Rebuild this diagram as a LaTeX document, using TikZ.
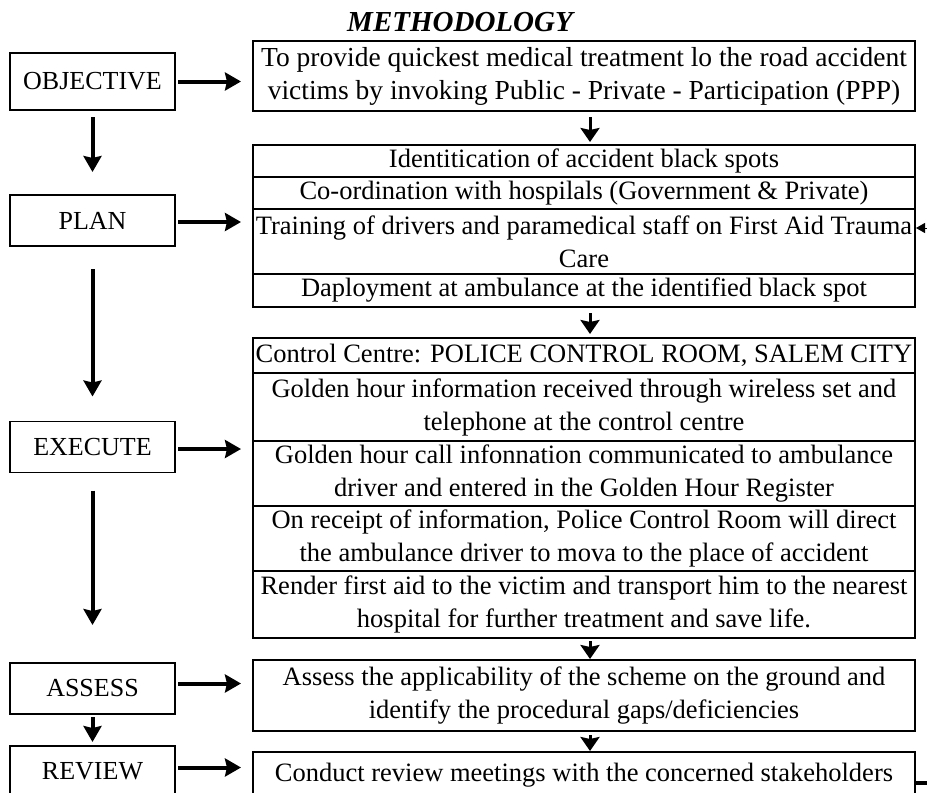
\documentclass[tikz,border=0pt]{standalone}
\usepackage{fontspec}
\setmainfont{Liberation Serif}
\usetikzlibrary{arrows.meta,positioning}

\begin{document}
\begin{tikzpicture}[x=1pt,y=-1pt,
  stage/.style={draw,line width=1.8pt,minimum width=165pt,minimum height=51pt,inner sep=0pt,outer sep=0pt,font=\fontsize{26}{33}\selectfont},
  row/.style={draw,line width=1.4pt,minimum width=662pt,inner sep=0pt,outer sep=0pt,align=center,font=\fontsize{26.5}{33}\selectfont},
  frame/.style={draw,line width=2.4pt},
  bigarrow/.style={-{Stealth[length=16pt,width=18pt,inset=2pt]},line width=4pt},
  smallarrow/.style={-{Stealth[length=14pt,width=19pt,inset=2pt]},line width=3pt}]
\path[use as bounding box,clip] (0,0) rectangle (927,793);
\node[font=\fontsize{29}{33}\selectfont\bfseries\itshape] (title) at (460,22) {METHODOLOGY};
%
% left column
\node[stage,minimum height=57pt] (obj) at (92.5,81.5) {OBJECTIVE};
\node[stage] (plan) at (92.5,220.5) {PLAN};
\node[stage] (exec) at (92.5,447) {EXECUTE};
\node[stage] (asse) at (92.5,688.5) {ASSESS};
\node[stage] (revw) at (92.5,771.5) {REVIEW};
%
% right column
\node[row,line width=2.2pt,minimum height=70pt,anchor=north west,font=\fontsize{27.5}{33}\selectfont] (goal) at (253,41) {To provide quickest medical treatment lo the road accident\\victims by invoking Public - Private - Participation (PPP)};
%
\node[row,minimum height=32pt,anchor=north west] (pa) at (253,145) {Identitication of accident black spots};
\node[row,minimum height=32pt,below=0pt of pa] (pb) {Co-ordination with hospilals (Government \& Private)};
\node[row,minimum height=65pt,below=0pt of pb] (pc) {\makebox[600pt]{Training of drivers and paramedical staff on First Aid Trauma}\\Care};
\node[row,minimum height=33pt,below=0pt of pc] (pd) {Daployment at ambulance at the identified black spot};
\draw[frame] (pa.north west) rectangle (pd.south east);
%
\node[row,minimum height=35pt,anchor=north west] (ea) at (253,338) {Control Centre: POLICE CONTROL ROOM, SALEM CITY};
\node[row,minimum height=68pt,below=0pt of ea] (eb) {Golden hour information received through wireless set and\\telephone at the control centre};
\node[row,minimum height=65pt,below=0pt of eb] (ec) {Golden hour call infonnation communicated to ambulance\\driver and entered in the Golden Hour Register};
\node[row,minimum height=65pt,below=0pt of ec] (ed) {On receipt of information, Police Control Room will direct\\the ambulance driver to mova to the place of accident};
\node[row,minimum height=67pt,below=0pt of ed] (ee) {\makebox[600pt]{Render first aid to the victim and transport him to the nearest}\\hospital for further treatment and save life.};
\draw[frame] (ea.north west) rectangle (ee.south east);
%
\node[row,line width=2.2pt,minimum height=71pt,anchor=north west] (chk) at (253,660) {Assess the applicability of the scheme on the ground and\\identify the procedural gaps/deficiencies};
\node[row,line width=2.2pt,minimum height=46pt,anchor=north west] (mtg) at (253,752) {Conduct review meetings with the concerned stakeholders};
%
% flow down the left
\draw[bigarrow,shorten <=7pt,shorten >=23pt] (obj.south) -- (plan.north);
\draw[bigarrow,shorten <=23pt,shorten >=25pt] (plan.south) -- (exec.north);
\draw[bigarrow,shorten <=18pt,shorten >=38pt] (exec.south) -- (asse.north);
\draw[bigarrow,shorten <=3pt,shorten >=4pt] (asse.south) -- (revw.north);
%
% stage to content
\draw[bigarrow,shorten <=3pt,shorten >=12pt] (obj.east) -- (obj.east -| goal.west);
\draw[bigarrow,shorten <=3pt,shorten >=12pt] ([yshift=-1.5pt]plan.east) -- ([yshift=-1.5pt]plan.east -| pa.west);
\draw[bigarrow,shorten <=3pt,shorten >=12pt] ([yshift=-2pt]exec.east) -- ([yshift=-2pt]exec.east -| eb.west);
\draw[bigarrow,shorten <=3pt,shorten >=12pt] ([yshift=5pt]asse.east) -- ([yshift=5pt]asse.east -| chk.west);
\draw[bigarrow,shorten <=3pt,shorten >=12pt] ([yshift=4pt]revw.east) -- ([yshift=4pt]revw.east -| mtg.west);
%
% flow down the right
\draw[smallarrow,shorten <=6pt,shorten >=3pt] ([xshift=6pt]goal.south) -- ([xshift=6pt]pa.north);
\draw[smallarrow,shorten <=6pt,shorten >=4pt] ([xshift=6pt]pd.south) -- ([xshift=6pt]ea.north);
\draw[smallarrow,shorten <=3pt,shorten >=1pt] ([xshift=6pt]ee.south) -- ([xshift=6pt]chk.north);
\draw[smallarrow,shorten <=4pt,shorten >=1pt] ([xshift=6pt]chk.south) -- ([xshift=6pt]mtg.north);
%
% feedback ends at the right edge
\coordinate (fbin) at (935,228);
\draw[-{Triangle[length=9pt,width=10pt]},line width=1pt,shorten >=1pt] (fbin) -- (fbin -| pc.east);
\coordinate (fbout) at (935,783);
\draw[line width=4pt] (fbout -| mtg.east) -- (fbout);
\end{tikzpicture}
\end{document}
